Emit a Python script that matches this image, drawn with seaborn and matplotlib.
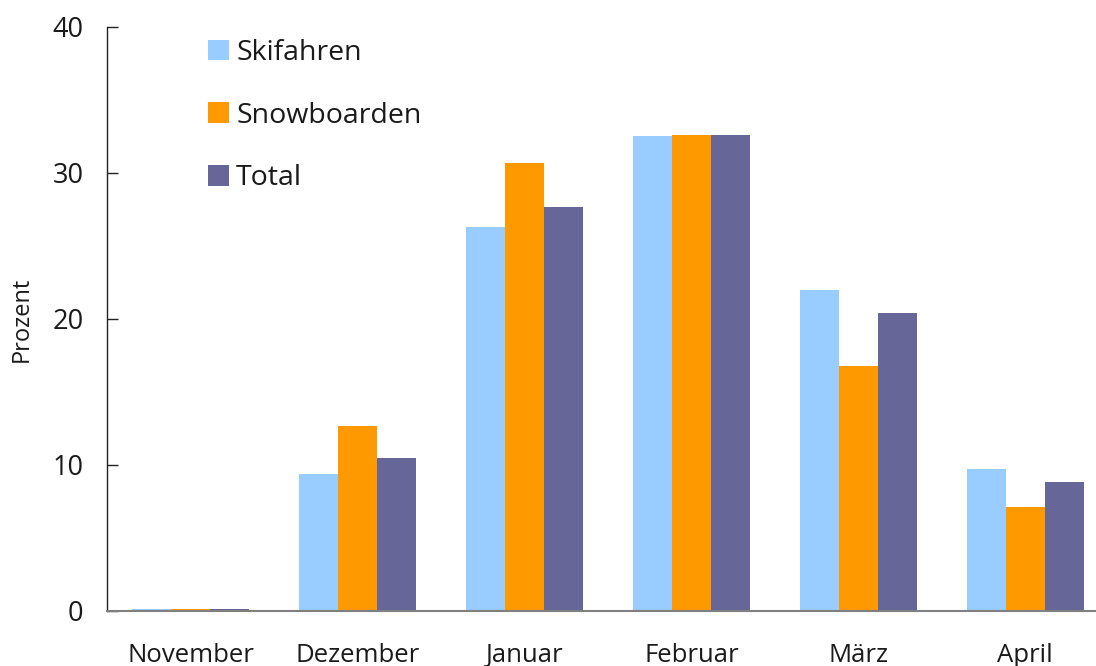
import matplotlib.pyplot as plt
import pandas as pd
import seaborn as sns

monate = ["November", "Dezember", "Januar", "Februar", "März", "April"]
skifahren = [0.15, 9.4, 26.3, 32.5, 22.0, 9.7]
snowboarden = [0.15, 12.7, 30.7, 32.6, 16.8, 7.1]
total = [0.15, 10.5, 27.7, 32.6, 20.4, 8.8]

serien = ["Skifahren", "Snowboarden", "Total"]
farben = ["#99CCFF", "#FF9900", "#666699"]

df = pd.DataFrame({
    "Monat": monate * 3,
    "Prozent": skifahren + snowboarden + total,
    "Serie": [s for s in serien for _ in monate],
})

sns.set_theme(style="white")
plt.rcParams["font.family"] = ["Open Sans", "DejaVu Sans"]

fig = plt.figure(figsize=(10.96, 6.66), dpi=100)
# axes run slightly past the right edge of the figure, like the original
ax = fig.add_axes([0.0976, 0.0826, 0.914, 0.877])

sns.barplot(data=df, x="Monat", y="Prozent", hue="Serie", order=monate,
            hue_order=serien, palette=farben, width=0.7, saturation=1,
            errorbar=None, linewidth=0, ax=ax)

ax.set_ylim(0, 40)
ax.set_xlim(-0.5, 5.5)
ax.set_yticks([0, 10, 20, 30, 40])
ax.set_xlabel("")
ax.set_ylabel("Prozent", fontsize=17, labelpad=13, color="#1a1a1a")

ax.tick_params(axis="y", direction="in", length=8, width=1, color="#222222",
               labelsize=19.5, labelcolor="#1a1a1a", pad=17, left=True)
ax.tick_params(axis="x", length=0, labelsize=18.5, labelcolor="#1a1a1a", pad=23)

for s in ["top", "right"]:
    ax.spines[s].set_visible(False)
ax.spines["left"].set_color("#222222")
ax.spines["left"].set_linewidth(1)
ax.spines["bottom"].set_color("#808080")
ax.spines["bottom"].set_linewidth(1.5)

leg = ax.legend(loc="upper left", bbox_to_anchor=(0.0895, 0.999), frameon=False,
                fontsize=20.5, handlelength=0.74, handleheight=0.74,
                handletextpad=0.25, labelspacing=1.22, borderaxespad=0,
                labelcolor="#1a1a1a")

fig.savefig("out.png", dpi=100)
